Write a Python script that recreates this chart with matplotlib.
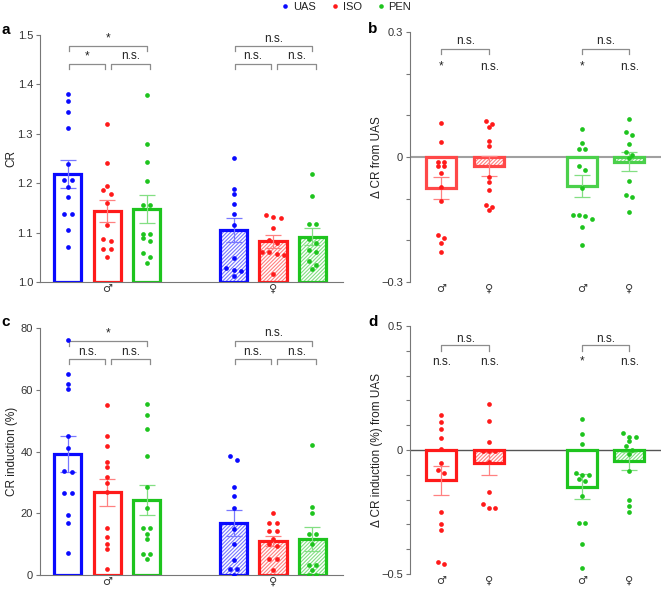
import numpy as np
import matplotlib
matplotlib.use("Agg")
import matplotlib.pyplot as plt
from matplotlib.lines import Line2D

plt.rcParams['font.family'] = ['Liberation Sans', 'DejaVu Sans']
plt.rcParams['hatch.linewidth'] = 0.8

BLUE = '#0a0aff'
RED = '#ff1a1a'
GREEN = '#1ec41e'
GREY = '#8c8c8c'

groups = ['UAS', 'ISO', 'PEN']
sexes = ['\u2642', '\u2640']

# panel a: CR
a_uas_m = [1.381, 1.367, 1.344, 1.311, 1.239, 1.207, 1.207, 1.193, 1.172, 1.138, 1.138, 1.106, 1.071]
a_iso_m = [1.319, 1.241, 1.195, 1.186, 1.179, 1.160, 1.116, 1.087, 1.082, 1.067, 1.067, 1.050]
a_pen_m = [1.378, 1.280, 1.243, 1.205, 1.156, 1.156, 1.098, 1.098, 1.089, 1.084, 1.058, 1.051, 1.038]
a_uas_f = [1.251, 1.188, 1.179, 1.158, 1.137, 1.116, 1.049, 1.028, 1.025, 1.023, 1.013]
a_iso_f = [1.135, 1.132, 1.129, 1.109, 1.086, 1.079, 1.061, 1.061, 1.057, 1.055, 1.017]
a_pen_f = [1.218, 1.175, 1.118, 1.118, 1.087, 1.079, 1.065, 1.061, 1.042, 1.034, 1.026]
a_mean_m = [1.219, 1.144, 1.148]
a_mean_f = [1.105, 1.082, 1.092]
a_sem_m = [0.028, 0.022, 0.028]
a_sem_f = [0.025, 0.013, 0.018]
a_sig_m = ['*', '*', 'n.s.']      # UAS-PEN, UAS-ISO, ISO-PEN
a_sig_f = ['n.s.', 'n.s.', 'n.s.']

# panel c: CR induction (%)
c_uas_m = [76.0, 65.2, 61.9, 60.1, 45.0, 41.1, 33.8, 33.4, 26.7, 26.4, 19.5, 16.8, 7.0]
c_iso_m = [55.1, 45.1, 41.8, 36.7, 35.1, 31.6, 29.8, 26.8, 15.1, 12.4, 10.2, 8.3, 1.8]
c_pen_m = [55.5, 51.7, 47.3, 38.6, 28.4, 21.8, 15.2, 15.2, 13.4, 11.8, 6.7, 6.7, 5.1]
c_uas_f = [38.4, 37.3, 28.5, 25.7, 21.7, 14.9, 10.0, 5.0, 1.9, 1.9, 0.0]
c_iso_f = [20.0, 16.7, 16.7, 14.1, 14.1, 11.6, 10.2, 9.5, 5.1, 5.1, 1.7]
c_pen_f = [42.2, 21.9, 20.0, 13.4, 13.4, 10.0, 3.2, 3.2, 1.7, 0.0, 0.0]
c_mean_m = [39.3, 26.8, 24.3]
c_mean_f = [16.8, 11.0, 11.6]
c_sem_m = [5.8, 4.4, 5.0]
c_sem_f = [4.3, 1.7, 3.9]
c_sig_m = ['*', 'n.s.', 'n.s.']
c_sig_f = ['n.s.', 'n.s.', 'n.s.']

# panel b: delta CR from UAS (ISO m, ISO f, PEN m, PEN f)
b_iso_m = [0.081, 0.035, -0.011, -0.011, -0.022, -0.022, -0.039, -0.071, -0.106, -0.188, -0.195, -0.207, -0.229]
b_iso_f = [0.087, 0.080, 0.072, 0.039, 0.026, -0.047, -0.059, -0.080, -0.116, -0.120, -0.128]
b_pen_m = [0.067, 0.033, 0.019, 0.019, -0.022, -0.032, -0.074, -0.138, -0.138, -0.141, -0.148, -0.168, -0.210]
b_pen_f = [0.091, 0.059, 0.053, 0.031, 0.013, 0.005, -0.003, -0.057, -0.090, -0.095, -0.132]
b_mean = [-0.074, -0.021, -0.070, -0.011]
b_sem = [0.027, 0.024, 0.026, 0.022]
b_sig_pair = ['n.s.', 'n.s.']
b_sig_each = ['*', 'n.s.', '*', 'n.s.']

# panel d: delta CR induction (%) from UAS
d_iso_m = [0.141, 0.111, 0.085, 0.050, 0.003, -0.052, -0.082, -0.091, -0.250, -0.300, -0.324, -0.451, -0.459]
d_iso_f = [0.184, 0.118, 0.032, -0.003, -0.003, -0.003, -0.048, -0.169, -0.217, -0.234, -0.234]
d_pen_m = [0.123, 0.064, 0.024, -0.094, -0.099, -0.099, -0.117, -0.126, -0.184, -0.293, -0.296, -0.380, -0.477]
d_pen_f = [0.068, 0.051, 0.051, 0.035, 0.017, 0.000, -0.017, -0.085, -0.200, -0.224, -0.251]
d_mean = [-0.122, -0.054, -0.148, -0.046]
d_sem = [0.058, 0.047, 0.050, 0.036]
d_sig_pair = ['n.s.', 'n.s.']
d_sig_each = ['n.s.', 'n.s.', '*', 'n.s.']

TXT = 8.5


def light(c, f=0.5):
    rgb = np.array(matplotlib.colors.to_rgb(c))
    return tuple(rgb * (1 - f) + f)


def spread(vals, tol, step):
    vals = np.asarray(vals, dtype=float)
    order = np.argsort(-vals, kind='stable')
    offs = np.zeros(len(vals))
    i = 0
    while i < len(order):
        j = i
        while j + 1 < len(order) and vals[order[i]] - vals[order[j + 1]] < tol:
            j += 1
        n = j - i + 1
        for k in range(n):
            offs[order[i + k]] = (k - (n - 1) / 2) * step
        i = j + 1
    return offs


def draw_bar(ax, x, mean, sem, pts, color, hatched, width, tol, step, base=0.0, fade=0.0):
    edge = light(color, fade)
    if hatched:
        ax.bar(x, mean - base, width, bottom=base, color='white', edgecolor=light(color, 0.45),
               hatch='/' * 9, linewidth=0, zorder=1)
    ax.bar(x, mean - base, width, bottom=base, fill=False, edgecolor=edge, linewidth=2.3, zorder=2)
    ax.errorbar(x, mean, yerr=sem, color=light(color, 0.45), capsize=5.5,
                elinewidth=0.9, capthick=0.9, zorder=3)
    ax.plot(x + spread(pts, tol, step), pts, 'o', color=color, ms=3.4, mew=0, zorder=4)


def bracket(ax, x0, x1, y, drop, ty, text):
    ax.plot([x0, x0, x1, x1], [y - drop, y, y, y - drop], color=GREY, lw=0.9, clip_on=False)
    ax.text((x0 + x1) / 2, ty, text, ha='center', va='baseline', fontsize=TXT, color='#222222')


def style(ax):
    for s in ['top', 'right']:
        ax.spines[s].set_visible(False)
    ax.spines['left'].set_color('#777777')
    ax.spines['bottom'].set_color('#777777')
    ax.tick_params(axis='y', direction='out', length=3, width=0.8, color='#777777',
                   labelsize=8, labelcolor='#333333', pad=2)
    ax.tick_params(axis='x', length=0, labelsize=8, labelcolor='#333333', pad=1.5)


def sex_labels(ax, xs, labels):
    ax.set_xticks(xs)
    ax.set_xticklabels(labels, fontfamily='DejaVu Sans')


fig = plt.figure(figsize=(6.61, 5.89), dpi=100)
ax_a = fig.add_axes([40 / 661, 1 - 282 / 589, 303 / 661, 247 / 589])
ax_b = fig.add_axes([410 / 661, 1 - 282 / 589, 251 / 661, 250 / 589])
ax_c = fig.add_axes([40 / 661, 1 - 575 / 589, 303 / 661, 247 / 589])
ax_d = fig.add_axes([410 / 661, 1 - 574 / 589, 251 / 661, 248 / 589])

colors = [BLUE, RED, GREEN]
xm = np.array([0, 1, 2])
xf = xm + 4.22

# panels a and c
for ax, pts_m, pts_f, mm, mf, sm, sf, sig_m, sig_f, base, tol, lines in [
    (ax_a, [a_uas_m, a_iso_m, a_pen_m], [a_uas_f, a_iso_f, a_pen_f], a_mean_m, a_mean_f,
     a_sem_m, a_sem_f, a_sig_m, a_sig_f, 1.0, 0.0085, (1.478, 1.486, 1.441, 1.451, 0.010)),
    (ax_c, [c_uas_m, c_iso_m, c_pen_m], [c_uas_f, c_iso_f, c_pen_f], c_mean_m, c_mean_f,
     c_sem_m, c_sem_f, c_sig_m, c_sig_f, 0.0, 1.4, (75.8, 77.3, 69.8, 71.3, 1.6)),
]:
    style(ax)
    for i in range(3):
        draw_bar(ax, xm[i], mm[i], sm[i], pts_m[i], colors[i], False, 0.69, tol, 0.19, base)
        draw_bar(ax, xf[i], mf[i], sf[i], pts_f[i], colors[i], True, 0.69, tol, 0.19, base)
    yu, tu, yl, tl, dr = lines
    for g, sig in [(0, sig_m), (4.22, sig_f)]:
        bracket(ax, g + 0.03, g + 2.0, yu, dr, tu, sig[0])
        bracket(ax, g + 0.03, g + 0.95, yl, dr, tl, sig[1])
        bracket(ax, g + 1.1, g + 2.1, yl, dr, tl, sig[2])
    ax.set_xlim(-0.71, 7.0)
    sex_labels(ax, [xm[1], xf[1]], sexes)

ax_a.set_ylim(1.0, 1.5)
ax_a.set_yticks(np.arange(1.0, 1.51, 0.1))
ax_a.set_yticklabels(['1.0', '1.1', '1.2', '1.3', '1.4', '1.5'])
ax_a.set_ylabel('CR', fontsize=TXT, color='#222222')
ax_a.yaxis.set_label_coords(-0.074, 0.5)

ax_c.set_ylim(0, 80)
ax_c.set_yticks([0, 20, 40, 60, 80])
ax_c.set_ylabel('CR induction (%)', fontsize=TXT, color='#222222')
ax_c.yaxis.set_label_coords(-0.074, 0.5)

# panels b and d
xd = np.array([0, 1, 2.94, 3.92])
dcolors = [RED, RED, GREEN, GREEN]
dhatch = [False, True, False, True]
for ax, pts, means, sems, sig_pair, sig_each, lim, tol, step, zc, zw, fade, lines, label in [
    (ax_b, [b_iso_m, b_iso_f, b_pen_m, b_pen_f], b_mean, b_sem, b_sig_pair, b_sig_each,
     0.3, 0.0105, 0.13, '#a0a0a0', 1.5, 0.2, (0.259, 0.271, 0.209, 0.011), '\u0394 CR from UAS'),
    (ax_d, [d_iso_m, d_iso_f, d_pen_m, d_pen_f], d_mean, d_sem, d_sig_pair, d_sig_each,
     0.5, 0.018, 0.13, '#555555', 1.0, 0.0, (0.424, 0.436, 0.343, 0.023), '\u0394 CR induction (%) from UAS'),
]:
    style(ax)
    ax.spines['bottom'].set_visible(False)
    ax.axhline(0, color=zc, lw=zw, zorder=0.5)
    for i in range(4):
        draw_bar(ax, xd[i], means[i], sems[i], pts[i], dcolors[i], dhatch[i], 0.62, tol, step, fade=fade)
    yb, tb, te, dr = lines
    bracket(ax, xd[0], xd[1], yb, dr, tb, sig_pair[0])
    bracket(ax, xd[2], xd[3], yb, dr, tb, sig_pair[1])
    for i in range(4):
        ax.text(xd[i], te, sig_each[i], ha='center', va='baseline', fontsize=TXT, color='#222222')
    ax.set_xlim(-0.65, 4.58)
    ax.set_ylim(-lim, lim)
    ticks = np.round(np.linspace(-lim, lim, int(round(2 * lim / 0.1)) + 1), 2)
    ax.set_yticks(ticks)
    ax.set_yticklabels(['\u2212%g' % lim if t == -lim else ('0' if t == 0 else ('%g' % lim if t == lim else ''))
                        for t in ticks])
    sex_labels(ax, xd, [sexes[0], sexes[1], sexes[0], sexes[1]])
    ax.set_ylabel(label, fontsize=TXT, color='#222222')
    ax.yaxis.set_label_coords(-0.108, 0.5)

# panel letters
for x, y, t in [(1, 30, 'a'), (368, 29, 'b'), (1, 322, 'c'), (368, 322, 'd')]:
    fig.text(x / 661, 1 - y / 589, t, fontsize=11, fontweight='bold', va='center', ha='left')

handles = [Line2D([], [], marker='o', ls='', color=c, ms=3.3, mew=0) for c in colors]
fig.legend(handles, groups, loc='center', bbox_to_anchor=(346 / 661, 1 - 7 / 589), ncol=3,
           frameon=False, fontsize=8, handletextpad=0.3, columnspacing=1.3, handlelength=0.8,
           borderpad=0, labelcolor='#222222')

fig.savefig('out.png', dpi=100)
